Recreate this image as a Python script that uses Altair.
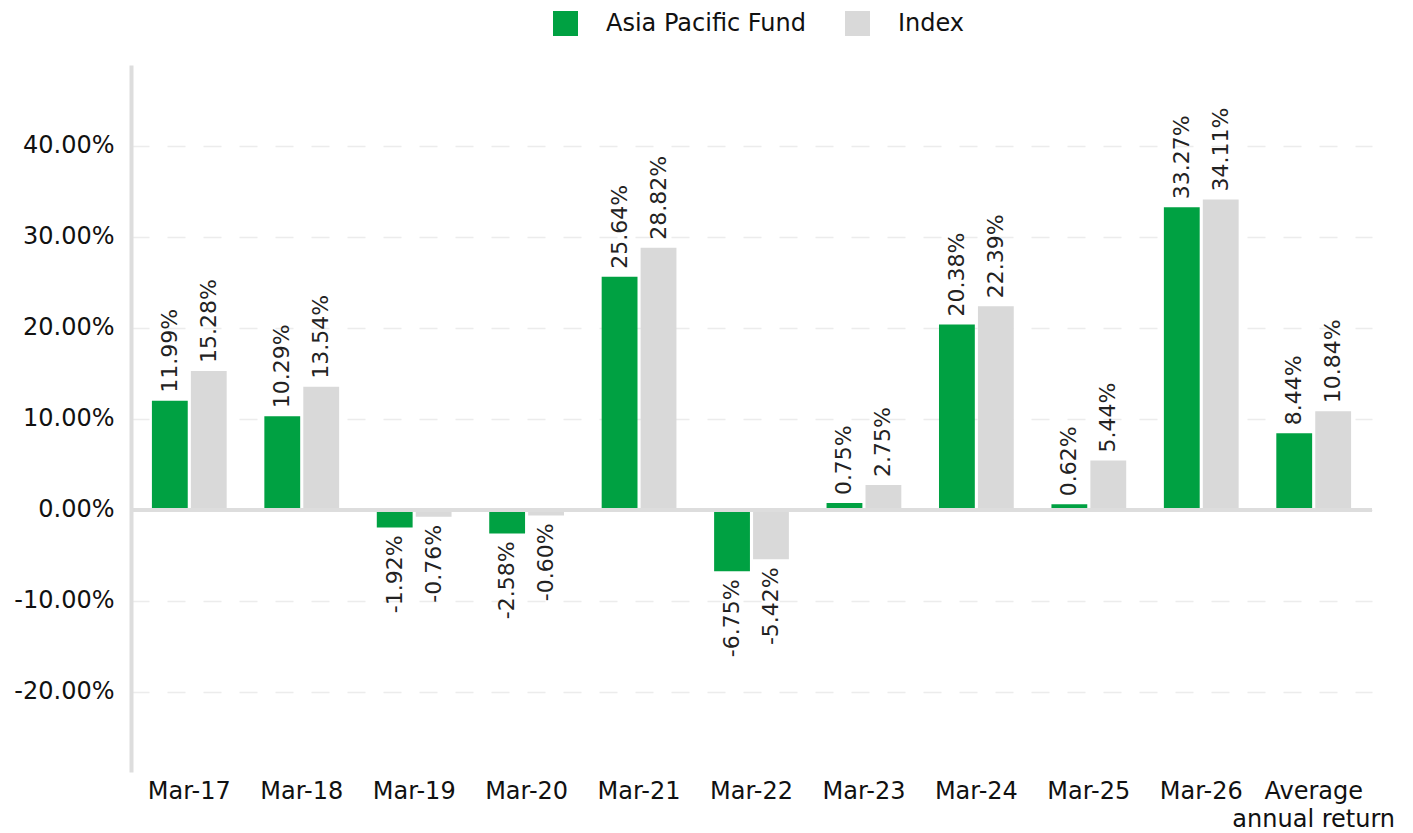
import altair as alt
import pandas as pd

categories = ["Mar-17", "Mar-18", "Mar-19", "Mar-20", "Mar-21", "Mar-22",
              "Mar-23", "Mar-24", "Mar-25", "Mar-26", "Average annual return"]
fund = [11.99, 10.29, -1.92, -2.58, 25.64, -6.75, 0.75, 20.38, 0.62, 33.27, 8.44]
index = [15.28, 13.54, -0.76, -0.60, 28.82, -5.42, 2.75, 22.39, 5.44, 34.11, 10.84]
series = ["Asia Pacific Fund", "Index"]
colors = ["#00a142", "#d9d9d9"]
y_ticks = [-20, -10, 0, 10, 20, 30, 40]

rows = []
for c, f, i in zip(categories, fund, index):
    rows.append({"cat": c, "series": series[0], "value": f, "label": f"{f:.2f}%"})
    rows.append({"cat": c, "series": series[1], "value": i, "label": f"{i:.2f}%"})
df = pd.DataFrame(rows)

FONT = "DejaVu Sans"

x = alt.X("cat:N", sort=categories, title=None,
          scale=alt.Scale(paddingInner=0.335, paddingOuter=0.186),
          axis=alt.Axis(labelAngle=0, labelFontSize=24, labelFont=FONT, labelColor="#111",
                        ticks=False, domain=False, grid=False, labelPadding=7,
                        labelLineHeight=28, labelLimit=0,
                        labelExpr="datum.label == 'Average annual return' ? ['Average', 'annual return'] : datum.label"))
xo = alt.XOffset("series:N", sort=series, scale=alt.Scale(paddingInner=0.08))
y = alt.Y("value:Q", title=None,
          scale=alt.Scale(domain=[-28.8, 48.9], nice=False, zero=False),
          axis=alt.Axis(values=y_ticks, labelFontSize=24, labelFont=FONT, labelColor="#111",
                        ticks=False, domain=True, domainColor="#dddddd", domainWidth=4,
                        grid=True, gridColor="#ececec", gridDash=[18, 18], gridWidth=1.5,
                        labelPadding=17,
                        labelExpr="(datum.value < 0 ? '-' : '') + format(abs(datum.value), '.2f') + '%'"))

color = alt.Color("series:N", sort=series, title=None,
                  scale=alt.Scale(domain=series, range=colors),
                  legend=alt.Legend(orient="none", legendX=422, legendY=-54,
                                    direction="horizontal", symbolType="square",
                                    symbolSize=625, symbolStrokeWidth=0, labelFontSize=24,
                                    labelFont=FONT, labelColor="#111", labelOffset=28,
                                    labelLimit=0, columnPadding=39, padding=0))

base = alt.Chart(df)
bars = base.mark_bar().encode(x=x, xOffset=xo, y=y, color=color)

pos = base.transform_filter("datum.value >= 0").mark_text(
    angle=270, align="left", baseline="middle", dx=8, fontSize=22, font=FONT, color="#222"
).encode(x=x, xOffset=xo, y=y, text="label:N")
neg = base.transform_filter("datum.value < 0").mark_text(
    angle=270, align="right", baseline="middle", dx=-8, fontSize=22, font=FONT, color="#222"
).encode(x=x, xOffset=xo, y=y, text="label:N")

zero = alt.Chart(pd.DataFrame({"z": [0]})).mark_rule(color="#dddddd", strokeWidth=4).encode(
    y=alt.Y("z:Q"))

chart = alt.layer(bars, zero, pos, neg).properties(
    width=1241, height=707,
    background="white",
    autosize=alt.AutoSizeParams(type="none"),
    padding={"left": 131, "top": 65, "right": 41, "bottom": 61}
).configure_view(strokeWidth=0)

chart.save("out.html", embed_options={"renderer": "svg", "actions": False})
